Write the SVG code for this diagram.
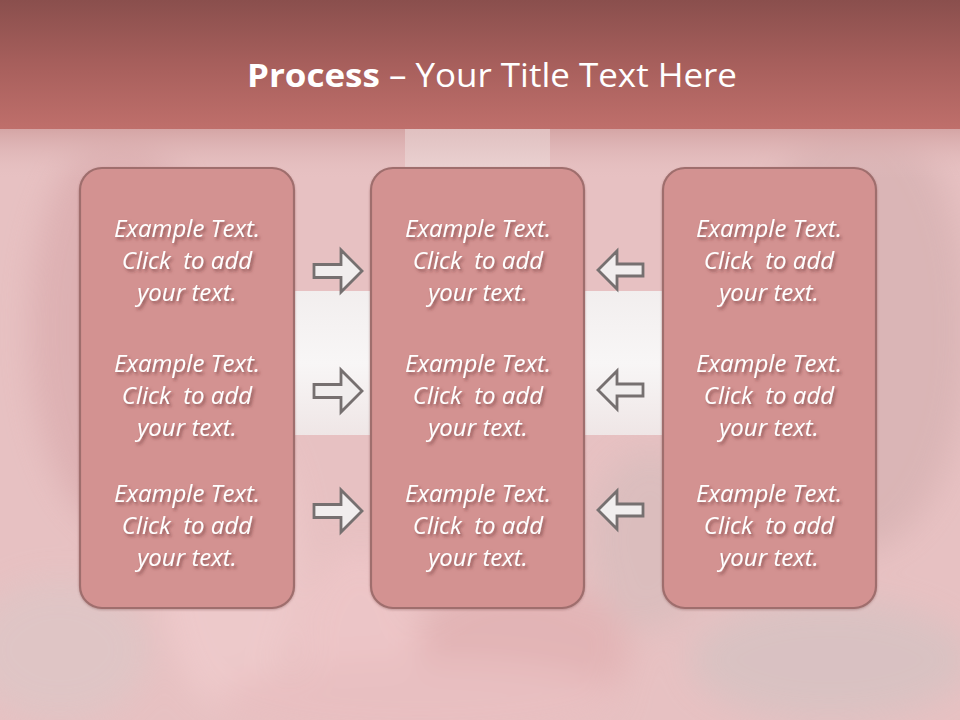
<svg xmlns="http://www.w3.org/2000/svg" width="960" height="720" viewBox="0 0 960 720">
<defs>
  <linearGradient id="hdr" x1="0" y1="0" x2="0" y2="1">
    <stop offset="0" stop-color="#8a4f4d"/>
    <stop offset="0.5" stop-color="#a75f5c"/>
    <stop offset="1" stop-color="#bf6f6b"/>
  </linearGradient>
  <linearGradient id="fade" x1="0" y1="0" x2="0" y2="1">
    <stop offset="0" stop-color="#d4a4a4"/>
    <stop offset="1" stop-color="#e3bebf" stop-opacity="0"/>
  </linearGradient>
  <linearGradient id="vbar" x1="0" y1="0" x2="0" y2="1">
    <stop offset="0" stop-color="#e0c0c0"/>
    <stop offset="1" stop-color="#efd9d9"/>
  </linearGradient>
  <linearGradient id="hbar" x1="0" y1="0" x2="0" y2="1">
    <stop offset="0" stop-color="#f2eeee"/>
    <stop offset="0.5" stop-color="#f8f6f6"/>
    <stop offset="1" stop-color="#efe6e6"/>
  </linearGradient>
  <filter id="blur" x="-20%" y="-20%" width="140%" height="140%">
    <feGaussianBlur stdDeviation="16"/>
  </filter>
  <filter id="ts" x="-10%" y="-30%" width="130%" height="170%">
    <feDropShadow dx="2" dy="2.5" stdDeviation="1.5" flood-color="#5a2c2c" flood-opacity="0.55"/>
  </filter>
  <filter id="bs" x="-10%" y="-10%" width="120%" height="120%">
    <feDropShadow dx="0" dy="1" stdDeviation="1" flood-color="#6a3a3a" flood-opacity="0.35"/>
  </filter>
</defs>
<style>
  .box { fill: #d39291; stroke: #9f6e6d; stroke-width: 2.2; }
  .arr { fill: #f1eeee; stroke: #767070; stroke-width: 2.8; stroke-linejoin: miter; }
  .t { font-family: "Open Sans", "Liberation Sans", sans-serif; font-style: italic; font-size: 24px; fill: #ffffff; text-anchor: middle; white-space: pre; }
  .title { font-family: "Open Sans", "Liberation Sans", sans-serif; font-size: 32px; fill: #ffffff; }
</style>

<!-- background -->
<rect x="0" y="0" width="960" height="720" fill="#e7c1c2"/>
<g filter="url(#blur)" opacity="0.85">
  <ellipse cx="120" cy="330" rx="90" ry="200" fill="#dcaeb0"/>
  <ellipse cx="230" cy="560" rx="70" ry="150" fill="#efcbcc"/>
  <ellipse cx="860" cy="330" rx="110" ry="220" fill="#d8b3b4"/>
  <ellipse cx="830" cy="660" rx="140" ry="60" fill="#d7c2c2"/>
  <ellipse cx="520" cy="650" rx="110" ry="70" fill="#e2b2b4"/>
  <ellipse cx="60" cy="650" rx="90" ry="70" fill="#dec6c6"/>
  <ellipse cx="360" cy="640" rx="60" ry="90" fill="#eec6c8"/>
  <ellipse cx="650" cy="540" rx="60" ry="90" fill="#d9bdbd"/>
  <ellipse cx="420" cy="700" rx="200" ry="40" fill="#e9bfc1"/>
</g>
<rect x="0" y="128" width="960" height="50" fill="url(#fade)"/>
<rect x="405" y="128" width="145" height="60" fill="url(#vbar)"/>
<rect x="294" y="291" width="370" height="144" fill="url(#hbar)"/>
<rect x="0" y="0" width="960" height="129" fill="url(#hdr)"/>

<!-- title -->
<g id="title">
  <text class="title" x="247" y="87" textLength="490" lengthAdjust="spacingAndGlyphs"><tspan font-weight="bold">Process</tspan> – Your Title Text Here</text>
</g>

<!-- nodes -->
<g id="box-left">
  <rect class="box" x="80" y="168" width="214" height="440" rx="22" filter="url(#bs)"/>
  <g filter="url(#ts)">
    <text class="t" x="187" y="237">Example Text.</text>
    <text class="t" x="187" y="269">Click  to add</text>
    <text class="t" x="187" y="301">your text.</text>
    <text class="t" x="187" y="372">Example Text.</text>
    <text class="t" x="187" y="404">Click  to add</text>
    <text class="t" x="187" y="436">your text.</text>
    <text class="t" x="187" y="502">Example Text.</text>
    <text class="t" x="187" y="534">Click  to add</text>
    <text class="t" x="187" y="566">your text.</text>
  </g>
</g>
<g id="box-middle">
  <rect class="box" x="371" y="168" width="213" height="440" rx="22" filter="url(#bs)"/>
  <g filter="url(#ts)">
    <text class="t" x="478" y="237">Example Text.</text>
    <text class="t" x="478" y="269">Click  to add</text>
    <text class="t" x="478" y="301">your text.</text>
    <text class="t" x="478" y="372">Example Text.</text>
    <text class="t" x="478" y="404">Click  to add</text>
    <text class="t" x="478" y="436">your text.</text>
    <text class="t" x="478" y="502">Example Text.</text>
    <text class="t" x="478" y="534">Click  to add</text>
    <text class="t" x="478" y="566">your text.</text>
  </g>
</g>
<g id="box-right">
  <rect class="box" x="663" y="168" width="213" height="440" rx="22" filter="url(#bs)"/>
  <g filter="url(#ts)">
    <text class="t" x="769" y="237">Example Text.</text>
    <text class="t" x="769" y="269">Click  to add</text>
    <text class="t" x="769" y="301">your text.</text>
    <text class="t" x="769" y="372">Example Text.</text>
    <text class="t" x="769" y="404">Click  to add</text>
    <text class="t" x="769" y="436">your text.</text>
    <text class="t" x="769" y="502">Example Text.</text>
    <text class="t" x="769" y="534">Click  to add</text>
    <text class="t" x="769" y="566">your text.</text>
  </g>
</g>

<!-- connectors -->
<g id="connectors">
  <defs>
    <path id="ra" d="M0,-6.5 H27 V-21 L48,0 L27,21 V6.5 H0 Z"/>
    <path id="la" d="M0,0 L19,-19 V-6 H45 V6 H19 V19 Z"/>
  </defs>
  <use href="#ra" class="arr" x="314" y="271"/>
  <use href="#ra" class="arr" x="314" y="391"/>
  <use href="#ra" class="arr" x="314" y="511"/>
  <use href="#la" class="arr" x="598" y="270"/>
  <use href="#la" class="arr" x="598" y="390"/>
  <use href="#la" class="arr" x="598" y="510"/>
</g>
</svg>
